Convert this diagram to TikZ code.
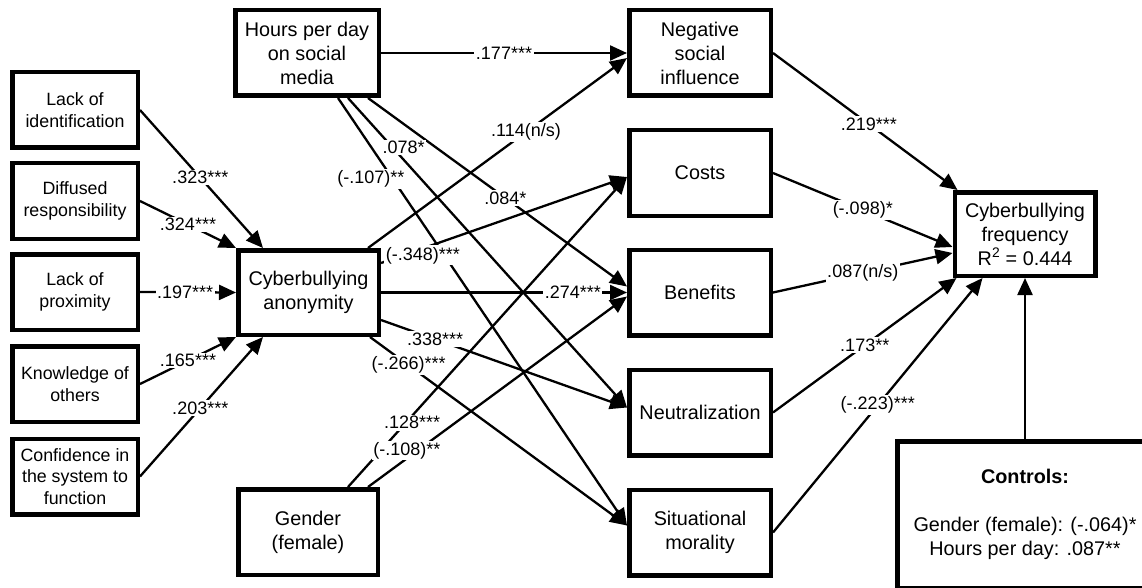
\documentclass[tikz,border=0pt]{standalone}
\usepackage{fontspec}
\setmainfont{Liberation Sans}
\usetikzlibrary{arrows.meta,calc}
\newcommand\boxtext{\fontsize{19.8}{24}\selectfont}
\newcommand\smalltext{\fontsize{17.8}{21.5}\selectfont}
\newcommand\lbltext{\fontsize{18}{20}\selectfont}
\begin{document}
\begin{tikzpicture}[x=1pt,y=-1pt,
  box/.style={draw,line width=4.5pt,align=center,inner sep=0pt,font=\boxtext},
  sbox/.style={box,minimum width=125.5pt,minimum height=75.5pt,font=\smalltext},
  mbox/.style={box,minimum width=141.5pt,minimum height=85.5pt},
  arr/.style={line width=2.3pt,-{Triangle[length=17pt,width=15pt]}},
  lbl/.style={fill=white,inner sep=1.5pt,font=\lbltext},
]
\useasboundingbox (0,0) rectangle (1142,588);
\clip (0,0) rectangle (1142,588);

% exogenous predictors of anonymity
\node[sbox] (ident) at (75,110) {Lack of\\identification};
\node[sbox] (diff) at (75,201) {Diffused\\responsibility};
\node[sbox] (prox) at (75,292) {Lack of\\proximity};
\node[sbox] (know) at (75,384) {Knowledge of\\others};
\node[sbox] (conf) at (75,476.5) {Confidence in\\the system to\\function};

% middle column
\node[box,minimum width=143.5pt,minimum height=85.5pt] (hours) at (307,53) {Hours per day\\on social\\media};
\node[box,minimum width=140.5pt,minimum height=84.5pt] (anon) at (308.5,292.5) {Cyberbullying\\anonymity};
\node[box,minimum width=139.5pt,minimum height=85.5pt] (gender) at (308,532) {Gender\\(female)};

% mediators
\node[mbox] (nsi) at (700,53) {Negative\\social\\influence};
\node[mbox] (costs) at (700,173) {Costs};
\node[mbox] (ben) at (700,292.5) {Benefits};
\node[mbox] (neut) at (700,412.5) {Neutralization};
\node[mbox] (sit) at (700,532.5) {Situational\\morality};

% outcome and controls
\node[box,minimum width=140.5pt,minimum height=83.5pt] (freq) at (1025,234) {Cyberbullying\\frequency\\R\textsuperscript{2} = 0.444};
\node[box,minimum width=255.5pt,minimum height=146.5pt] (ctrl) at (1025,514.5) {\textbf{Controls:}\\[24pt]Gender (female): (-.064)*\\Hours per day: .087**};

% end points of the paths
\coordinate (a1) at ($(anon.north west)+(27,0)$);
\coordinate (a5) at ($(anon.south west)+(27,0)$);
\coordinate (h1) at ($(hours.south west)+(105,0)$);
\coordinate (h2) at ($(hours.south west)+(115,0)$);
\coordinate (h3) at ($(hours.south west)+(135,0)$);
\coordinate (o1) at ($(anon.north east)+(-13,0)$);
\coordinate (o2) at ($(anon.north east)+(0,15)$);
\coordinate (o4) at ($(anon.south east)+(0,-17)$);
\coordinate (o5) at ($(anon.south east)+(-11,0)$);
\coordinate (g1) at ($(gender.north west)+(112,0)$);
\coordinate (g2) at ($(gender.north west)+(132,0)$);
\coordinate (tN) at ($(nsi.west)+(0,5)$);
\coordinate (tC) at ($(costs.west)+(0,4)$);
\coordinate (tB1) at ($(ben.west)+(0,-6)$);
\coordinate (tB3) at ($(ben.west)+(0,4)$);
\coordinate (tU) at ($(neut.west)+(0,-5)$);
\coordinate (tS) at ($(sit.west)+(0,-7)$);
\coordinate (f1) at ($(freq.north west)+(5,0)$);
\coordinate (f2) at ($(freq.west)+(0,13)$);
\coordinate (f3) at ($(freq.west)+(0,19)$);
\coordinate (f4) at ($(freq.south west)+(4,0)$);
\coordinate (f5) at ($(freq.south west)+(30,0)$);

% paths
\draw[arr] (ident.east) -- (a1);
\draw[arr] (diff.east) -- (anon.north west);
\draw[arr] (prox.east) -- (anon.west);
\draw[arr] (know.east) -- (anon.south west);
\draw[arr] (conf.east) -- (a5);
\draw[arr] (hours.east) -- (nsi.west);
\draw[arr] (h1) -- (tS);
\draw[arr] (h2) -- (tU);
\draw[arr] (h3) -- (tB1);
\draw[arr] (o1) -- (tN);
\draw[arr] (o2) -- (tC);
\draw[arr] (anon.east) -- (ben.west);
\draw[arr] (o4) -- (tU);
\draw[arr] (o5) -- (tS);
\draw[arr] (g1) -- (tC);
\draw[arr] (g2) -- (tB3);
\draw[arr] (nsi.east) -- (f1);
\draw[arr] (costs.east) -- (f2);
\draw[arr] (ben.east) -- (f3);
\draw[arr] (neut.east) -- (f4);
\draw[arr] (sit.east) -- (f5);
\draw[arr] (ctrl.north) -- (freq.south);

% coefficients, set over all paths
\path (ident.east) -- (a1) node[lbl,pos=.49] (l1) {.323***};
\path (diff.east) -- (anon.north west) node[lbl,pos=.5] (l2) {.324***};
\path (prox.east) -- (anon.west) node[lbl,pos=.47] (l3) {.197***};
\path (know.east) -- (anon.south west) node[lbl,pos=.5] (l4) {.165***};
\path (conf.east) -- (a5) node[lbl,pos=.49] (l5) {.203***};
\path (hours.east) -- (nsi.west) node[lbl,pos=.5] (l6) {.177***};
\path (h1) -- (tS) node[lbl,pos=.19,xshift=-22pt] (l7) {(-.107)**};
\path (h2) -- (tU) node[lbl,pos=.16,xshift=11pt] (l8) {.078*};
\path (h3) -- (tB1) node[lbl,pos=.53] (l9) {.084*};
\path (o1) -- (tN) node[lbl,pos=.61] (l10) {.114(n/s)};
\path (o2) -- (tC) node[lbl,pos=.17,yshift=-7pt] (l11) {(-.348)***};
\path (anon.east) -- (ben.west) node[lbl,pos=.78] (l12) {.274***};
\path (o4) -- (tU) node[lbl,pos=.22] (l13) {.338***};
\path (o5) -- (tS) node[lbl,pos=.15] (l14) {(-.266)***};
\path (g1) -- (tC) node[lbl,pos=.23,yshift=-7pt] (l15) {.128***};
\path (g2) -- (tB3) node[lbl,pos=.15,yshift=8pt] (l16) {(-.108)**};
\path (nsi.east) -- (f1) node[lbl,pos=.52] (l17) {.219***};
\path (costs.east) -- (f2) node[lbl,pos=.5] (l18) {(-.098)*};
\path (ben.east) -- (f3) node[lbl,pos=.5] (l19) {.087(n/s)};
\path (neut.east) -- (f4) node[lbl,pos=.5] (l20) {.173**};
\path (sit.east) -- (f5) node[lbl,pos=.5] (l21) {(-.223)***};
\end{tikzpicture}
\end{document}
